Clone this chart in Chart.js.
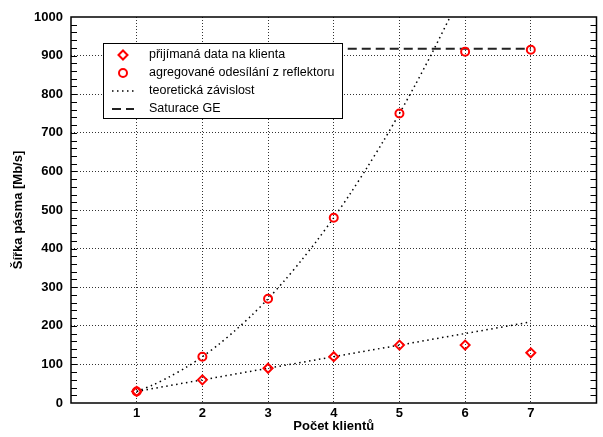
<!DOCTYPE html>
<html>
<head>
<meta charset="utf-8">
<script src="https://cdn.jsdelivr.net/npm/chart.js@4.4.0/dist/chart.umd.min.js"></script>
<style>
  html, body { margin: 0; padding: 0; background: #fff; }
  #wrap { width: 603px; height: 437px; }
</style>
</head>
<body>
<div id="wrap"><canvas id="bwChart"></canvas></div>
<script>
// počty klientů a naměřené hodnoty
const clients = [1, 2, 3, 4, 5, 6, 7];
const clientLabels = ['1', '2', '3', '4', '5', '6', '7'];
const receivedData = [30, 60, 90, 120, 150, 150, 130];
const aggregatedData = [30, 120, 270, 480, 750, 910, 915];

// teoretická závislost
const theoryLinX = [1, 7];
const theoryLinY = [30, 210];
const theoryQuadX = [1, 1.25, 1.5, 1.75, 2, 2.25, 2.5, 2.75, 3, 3.25, 3.5, 3.75, 4, 4.25, 4.5, 4.75, 5, 5.25, 5.5, 5.77];
const theoryQuadY = [30, 47, 68, 92, 120, 152, 188, 227, 270, 317, 368, 422, 480, 542, 608, 677, 750, 827, 908, 1000];

// saturace gigabitového ethernetu
const saturationX = [4, 7];
const saturationY = [918, 918];

const yTickValues = [0, 100, 200, 300, 400, 500, 600, 700, 800, 900, 1000];

function pts(xs, ys) {
    return xs.map((x, i) => ({ x: x, y: ys[i] }));
}

Chart.defaults.font.family = '"Liberation Sans", Arial, sans-serif';
Chart.defaults.color = '#000';

// rámeček a malé značky na osách
const framePlugin = {
    id: 'frame',
    afterDraw(chart) {
        const { ctx, chartArea: a, scales } = chart;
        ctx.save();
        ctx.strokeStyle = '#000';
        ctx.lineWidth = 1;
        ctx.beginPath();
        for (let v = 20; v < 1000; v += 20) {
            const y = Math.round(scales.y.getPixelForValue(v)) + 0.5;
            ctx.moveTo(a.left, y); ctx.lineTo(a.left + 6, y);
            ctx.moveTo(a.right, y); ctx.lineTo(a.right - 6, y);
        }
        ctx.stroke();
        ctx.lineWidth = 1.5;
        ctx.strokeRect(a.left, a.top, a.right - a.left, a.bottom - a.top);
        ctx.restore();
    }
};

// legenda uvnitř grafu s bílým pozadím
const boxLegend = {
    id: 'boxLegend',
    afterDatasetsDraw(chart) {
        const ctx = chart.ctx;
        const bx = 103, by = 43, bw = 239, bh = 75;
        ctx.save();
        ctx.fillStyle = '#fff';
        ctx.fillRect(bx, by, bw, bh);
        ctx.strokeStyle = '#000';
        ctx.lineWidth = 1;
        ctx.strokeRect(bx + 0.5, by + 0.5, bw, bh);

        const rows = [0, 1, 2, 4];
        ctx.font = '12.5px "Liberation Sans", Arial, sans-serif';
        ctx.textBaseline = 'middle';
        rows.forEach((di, i) => {
            const ds = chart.data.datasets[di];
            const cy = by + 12 + i * 18;
            const cx = bx + 20;
            ctx.fillStyle = '#000';
            ctx.fillText(ds.label, bx + 46, cy);
            if (ds.showLine === false) {
                ctx.fillStyle = 'rgba(0,0,0,0)';
                ctx.strokeStyle = ds.pointBorderColor;
                ctx.lineWidth = ds.pointBorderWidth;
                Chart.helpers.drawPoint(ctx, {
                    pointStyle: ds.pointStyle, radius: ds.pointRadius, borderWidth: ds.pointBorderWidth
                }, cx, cy);
            } else {
                ctx.strokeStyle = ds.borderColor;
                ctx.lineWidth = ds.borderWidth;
                ctx.setLineDash(ds.borderDash);
                ctx.beginPath();
                ctx.moveTo(cx - 11, cy);
                ctx.lineTo(cx + 11, cy);
                ctx.stroke();
                ctx.setLineDash([]);
            }
        });
        ctx.restore();
    }
};

const dotted = [1.5, 3.5];

new Chart(document.getElementById('bwChart'), {
    type: 'scatter',
    data: {
        datasets: [{
            label: 'přijímaná data na klienta',
            data: pts(clients, receivedData),
            showLine: false,
            pointStyle: 'rectRot',
            pointRadius: 4.5,
            pointBorderWidth: 2,
            pointBorderColor: '#ff0000',
            pointBackgroundColor: 'rgba(0,0,0,0)',
            order: 1
        }, {
            label: 'agregované odesílání z reflektoru',
            data: pts(clients, aggregatedData),
            showLine: false,
            pointStyle: 'circle',
            pointRadius: 4,
            pointBorderWidth: 2,
            pointBorderColor: '#ff0000',
            pointBackgroundColor: 'rgba(0,0,0,0)',
            order: 1
        }, {
            label: 'teoretická závislost',
            data: pts(theoryLinX, theoryLinY),
            showLine: true,
            borderColor: '#000',
            borderWidth: 1.5,
            borderDash: dotted,
            pointRadius: 0,
            order: 3
        }, {
            label: 'teoretická závislost',
            data: pts(theoryQuadX, theoryQuadY),
            showLine: true,
            borderColor: '#000',
            borderWidth: 1.5,
            borderDash: dotted,
            tension: 0.3,
            pointRadius: 0,
            order: 3
        }, {
            label: 'Saturace GE',
            data: pts(saturationX, saturationY),
            showLine: true,
            borderColor: '#222',
            borderWidth: 2,
            borderDash: [9, 5],
            pointRadius: 0,
            order: 2
        }]
    },
    options: {
        responsive: true,
        maintainAspectRatio: false,
        animation: false,
        layout: { padding: { top: 17, right: 2, left: 0, bottom: 0 } },
        plugins: {
            legend: { display: false },
            tooltip: { enabled: false }
        },
        scales: {
            x: {
                type: 'linear',
                min: 0,
                max: 8,
                afterFit: s => { s.height = 34; },
                afterBuildTicks: s => { s.ticks = [0].concat(clients, [8]).map(v => ({ value: v })); },
                ticks: {
                    padding: 3,
                    font: { size: 13, weight: 'bold' },
                    callback: v => (clients.includes(v) ? clientLabels[clients.indexOf(v)] : '')
                },
                grid: {
                    drawTicks: false,
                    color: c => (c.tick && c.tick.value > 0 && c.tick.value < 8 ? 'rgba(0,0,0,0.8)' : 'rgba(0,0,0,0)')
                },
                border: { display: false, dash: [1, 2] },
                title: {
                    display: true,
                    text: 'Počet klientů',
                    font: { size: 13, weight: 'bold' },
                    padding: { top: 0, bottom: 3 }
                }
            },
            y: {
                min: 0,
                max: 1000,
                afterFit: s => { s.width = 71; },
                afterBuildTicks: s => { s.ticks = yTickValues.map(v => ({ value: v })); },
                ticks: {
                    padding: 8,
                    font: { size: 13, weight: 'bold' },
                    callback: v => String(v)
                },
                grid: {
                    drawTicks: false,
                    color: c => (c.tick && c.tick.value > 0 && c.tick.value < 1000 ? 'rgba(0,0,0,0.8)' : 'rgba(0,0,0,0)')
                },
                border: { display: false, dash: [1, 2] },
                title: {
                    display: true,
                    text: 'Šířka pásma [Mb/s]',
                    font: { size: 13, weight: 'bold' },
                    padding: { top: 11, bottom: 0 }
                }
            }
        }
    },
    plugins: [boxLegend, framePlugin]
});
</script>
</body>
</html>
